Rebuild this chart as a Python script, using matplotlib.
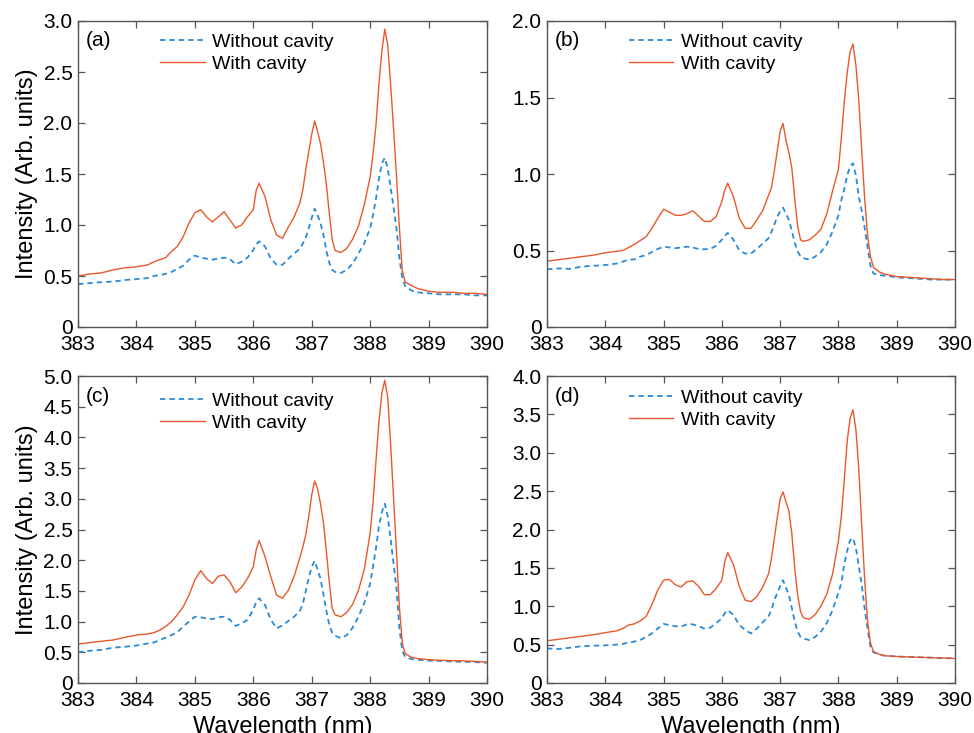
import matplotlib
matplotlib.use("Agg")
import matplotlib.pyplot as plt
from matplotlib.ticker import FuncFormatter, MultipleLocator

plt.rcParams["font.family"] = ["Liberation Sans", "DejaVu Sans"]

# Wavelength sampling (nm), denser around the 387 nm and 388.3 nm band heads
wavelength = [383.0, 383.2, 383.4, 383.6, 383.8, 384.0, 384.2,
              384.3, 384.4, 384.5, 384.6, 384.7, 384.8, 384.9, 385.0, 385.1,
              385.2, 385.3, 385.4, 385.5, 385.6, 385.7, 385.8, 385.9, 386.0,
              386.05, 386.1, 386.2, 386.3, 386.4, 386.5, 386.6, 386.7, 386.8,
              386.85, 386.9, 386.95, 387.0, 387.05, 387.1, 387.15, 387.2,
              387.25, 387.3, 387.35, 387.4,
              387.5, 387.6, 387.7, 387.8, 387.9, 388.0,
              388.05, 388.1, 388.15, 388.2, 388.25, 388.3, 388.35, 388.4,
              388.45, 388.5, 388.55, 388.6,
              388.7, 388.8, 389.0, 389.2, 389.4, 389.6, 389.8, 390.0]

# (a)
a_without = [0.42, 0.43, 0.44, 0.445, 0.46, 0.47, 0.48,
             0.50, 0.51, 0.52, 0.54, 0.57, 0.60, 0.66, 0.70, 0.68,
             0.67, 0.66, 0.67, 0.68, 0.665, 0.615, 0.64, 0.68, 0.755,
             0.81, 0.84, 0.79, 0.67, 0.61, 0.61, 0.67, 0.72, 0.77,
             0.82, 0.88, 0.97, 1.07, 1.16, 1.10, 1.02, 0.905,
             0.75, 0.63, 0.56, 0.54,
             0.53, 0.56, 0.62, 0.72, 0.82, 0.97,
             1.10, 1.26, 1.45, 1.60, 1.66, 1.56, 1.37, 1.18,
             0.97, 0.68, 0.48, 0.40,
             0.36, 0.34, 0.33, 0.32, 0.32, 0.32, 0.31, 0.31]
a_with = [0.50, 0.52, 0.53, 0.56, 0.58, 0.59, 0.61,
          0.64, 0.66, 0.68, 0.74, 0.79, 0.885, 1.02, 1.12, 1.15,
          1.08, 1.03, 1.08, 1.13, 1.05, 0.97, 1.00, 1.08, 1.15,
          1.34, 1.41, 1.28, 1.05, 0.90, 0.87, 0.98, 1.08, 1.22,
          1.35, 1.55, 1.72, 1.89, 2.02, 1.92, 1.80, 1.62,
          1.40, 1.12, 0.86, 0.75,
          0.73, 0.77, 0.86, 0.99, 1.20, 1.47,
          1.70, 1.98, 2.38, 2.70, 2.92, 2.77, 2.38, 1.95,
          1.49, 0.98, 0.55, 0.44,
          0.41, 0.38, 0.35, 0.34, 0.34, 0.33, 0.33, 0.32]

# (b)
b_without = [0.377, 0.383, 0.38, 0.395, 0.40, 0.405, 0.415,
             0.427, 0.44, 0.442, 0.46, 0.47, 0.49, 0.51, 0.525, 0.52,
             0.515, 0.52, 0.525, 0.52, 0.51, 0.508, 0.51, 0.53, 0.57,
             0.595, 0.615, 0.57, 0.50, 0.48, 0.48, 0.51, 0.545, 0.58,
             0.62, 0.67, 0.72, 0.755, 0.78, 0.74, 0.70, 0.63,
             0.55, 0.495, 0.46, 0.45,
             0.44, 0.46, 0.49, 0.54, 0.625, 0.73,
             0.83, 0.90, 0.99, 1.05, 1.07, 0.99, 0.85, 0.76,
             0.65, 0.52, 0.40, 0.35,
             0.34, 0.335, 0.325, 0.32, 0.315, 0.31, 0.31, 0.31]
b_with = [0.43, 0.44, 0.45, 0.46, 0.47, 0.485, 0.495,
          0.50, 0.52, 0.54, 0.565, 0.59, 0.645, 0.71, 0.77, 0.75,
          0.73, 0.73, 0.74, 0.76, 0.725, 0.69, 0.69, 0.72, 0.82,
          0.895, 0.94, 0.85, 0.71, 0.645, 0.645, 0.70, 0.76, 0.86,
          0.91, 1.02, 1.15, 1.28, 1.33, 1.22, 1.14, 1.04,
          0.84, 0.66, 0.57, 0.56,
          0.57, 0.60, 0.64, 0.74, 0.89, 1.03,
          1.235, 1.47, 1.66, 1.80, 1.85, 1.71, 1.48, 1.15,
          0.84, 0.60, 0.46, 0.39,
          0.36, 0.345, 0.33, 0.325, 0.32, 0.315, 0.31, 0.31]

# (c)
c_without = [0.50, 0.525, 0.54, 0.575, 0.59, 0.61, 0.645,
             0.66, 0.70, 0.74, 0.78, 0.825, 0.92, 1.00, 1.08, 1.07,
             1.05, 1.04, 1.07, 1.08, 1.03, 0.93, 0.97, 1.03, 1.19,
             1.32, 1.38, 1.27, 1.03, 0.89, 0.94, 1.01, 1.08, 1.18,
             1.30, 1.50, 1.72, 1.89, 1.99, 1.85, 1.70, 1.45,
             1.18, 0.95, 0.82, 0.77,
             0.73, 0.78, 0.90, 1.08, 1.30, 1.62,
             1.90, 2.20, 2.55, 2.78, 2.92, 2.72, 2.35, 1.95,
             1.55, 0.90, 0.52, 0.43,
             0.39, 0.38, 0.365, 0.36, 0.35, 0.345, 0.34, 0.33]
c_with = [0.635, 0.657, 0.68, 0.70, 0.744, 0.78, 0.80,
          0.82, 0.86, 0.92, 1.00, 1.11, 1.24, 1.43, 1.68, 1.83,
          1.70, 1.62, 1.74, 1.76, 1.65, 1.47, 1.56, 1.70, 1.89,
          2.17, 2.32, 2.06, 1.73, 1.43, 1.38, 1.51, 1.74, 2.05,
          2.22, 2.42, 2.72, 3.06, 3.29, 3.16, 2.92, 2.62,
          2.15, 1.65, 1.22, 1.11,
          1.08, 1.15, 1.28, 1.51, 1.85, 2.44,
          2.95, 3.62, 4.25, 4.72, 4.93, 4.66, 3.90, 3.03,
          2.15, 1.25, 0.65, 0.48,
          0.42, 0.40, 0.38, 0.37, 0.365, 0.36, 0.35, 0.34]

# (d)
d_without = [0.45, 0.443, 0.46, 0.48, 0.486, 0.49, 0.50,
             0.51, 0.525, 0.54, 0.56, 0.60, 0.647, 0.71, 0.77, 0.755,
             0.74, 0.735, 0.765, 0.765, 0.74, 0.71, 0.72, 0.78, 0.84,
             0.91, 0.95, 0.885, 0.755, 0.69, 0.647, 0.71, 0.79, 0.87,
             0.95, 1.08, 1.17, 1.26, 1.34, 1.24, 1.15, 0.98,
             0.80, 0.67, 0.60, 0.58,
             0.56, 0.60, 0.67, 0.78, 0.95, 1.18,
             1.30, 1.55, 1.72, 1.86, 1.89, 1.76, 1.52, 1.28,
             0.97, 0.70, 0.47, 0.40,
             0.37, 0.355, 0.345, 0.34, 0.335, 0.33, 0.325, 0.32]
d_with = [0.55, 0.57, 0.59, 0.61, 0.63, 0.656, 0.68,
          0.71, 0.755, 0.77, 0.81, 0.865, 1.02, 1.21, 1.34, 1.35,
          1.28, 1.25, 1.32, 1.33, 1.26, 1.15, 1.15, 1.23, 1.34,
          1.58, 1.70, 1.54, 1.255, 1.08, 1.06, 1.125, 1.25, 1.42,
          1.62, 1.88, 2.15, 2.40, 2.49, 2.36, 2.24, 1.95,
          1.50, 1.15, 0.93, 0.85,
          0.83, 0.89, 1.00, 1.16, 1.42, 1.85,
          2.17, 2.645, 3.15, 3.45, 3.56, 3.30, 2.78, 2.05,
          1.35, 0.80, 0.52, 0.41,
          0.375, 0.355, 0.345, 0.34, 0.335, 0.33, 0.325, 0.32]

panel_labels = ["(a)", "(b)", "(c)", "(d)"]
y_max = [3.0, 2.0, 5.0, 4.0]
series = [(a_without, a_with), (b_without, b_with),
          (c_without, c_with), (d_without, d_with)]
x_ticks = [383, 384, 385, 386, 387, 388, 389, 390]

BLUE = "#2b8ad6"
ORANGE = "#e9582a"
FRAME = "#555555"

W, H = 974, 733
fig = plt.figure(figsize=(W / 100, H / 100), dpi=100)

# axes boxes in pixels: (left, top, right, bottom)
boxes = [(78, 21, 487, 327), (547, 21, 955, 327),
         (78, 376, 487, 683), (547, 376, 955, 683)]
# offset (px) from the top of each axes to the top of its legend
legend_offsets = [12, 12, 16, 13]

fmt = FuncFormatter(lambda v, p: "0" if abs(v) < 1e-9 else f"{v:.1f}")

for i, (l, t, r, b) in enumerate(boxes):
    ax = fig.add_axes([l / W, 1 - b / H, (r - l) / W, (b - t) / H])
    without, with_c = series[i]
    ln1, = ax.plot(wavelength, without, color=BLUE, lw=1.3,
                   label="Without cavity")
    ln1.set_dashes([3.0, 2.2])
    ax.plot(wavelength, with_c, color=ORANGE, lw=1.0, label="With cavity")

    ax.set_xlim(383, 390)
    ax.set_ylim(0, y_max[i])
    ax.set_xticks(x_ticks)
    ax.yaxis.set_major_locator(MultipleLocator(0.5))
    ax.yaxis.set_major_formatter(fmt)
    ax.tick_params(direction="in", length=5, width=0.9, color=FRAME,
                   top=True, right=True, labelsize=15)
    ax.tick_params(axis="x", pad=6)
    ax.tick_params(axis="y", pad=4)
    for s in ax.spines.values():
        s.set_color(FRAME)
        s.set_linewidth(1.0)

    if i % 2 == 0:
        ax.set_ylabel("Intensity (Arb. units)", fontsize=17, labelpad=4)
    if i >= 2:
        ax.set_xlabel("Wavelength (nm)", fontsize=17, labelpad=4)

    ax.text(8 / (r - l), 1 - 20 / (b - t), panel_labels[i],
            transform=ax.transAxes, fontsize=15, va="center", ha="left")

    ax.legend(loc="upper left",
              bbox_to_anchor=(0.20, 1 - legend_offsets[i] / (b - t)),
              frameon=False, fontsize=14, handlelength=2.3,
              handletextpad=0.4, labelspacing=0.25, borderpad=0,
              borderaxespad=0)

fig.savefig("out.png", dpi=100)
